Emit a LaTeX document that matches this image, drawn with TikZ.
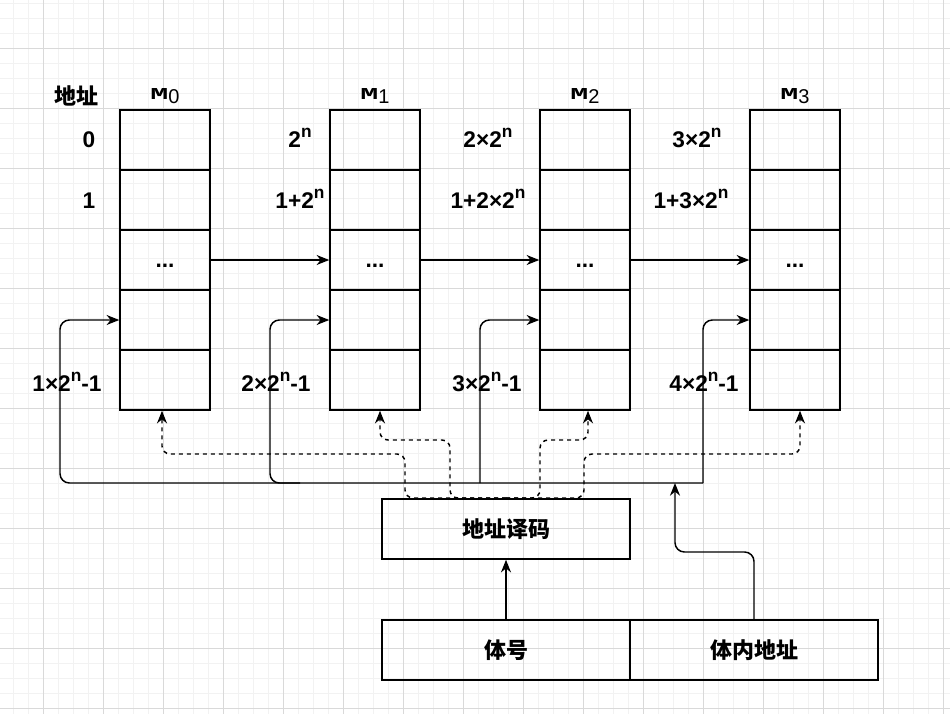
\documentclass[tikz,border=0pt]{standalone}
\usepackage{fontspec}
\setmainfont{Liberation Sans}
\setmonofont{Liberation Mono}
\newfontfamily\cjk{Noto Sans CJK SC}
\usetikzlibrary{calc}
\usetikzlibrary{arrows.meta}

\tikzset{
  cell/.style={draw, line width=1.1pt, minimum width=67.5pt, minimum height=45pt, inner sep=0pt},
  box/.style={draw, line width=1.1pt, minimum width=186pt, minimum height=45pt, inner sep=0pt,
    font=\cjk\bfseries\fontsize{16.5}{18}\selectfont},
  lab/.style={font=\bfseries\fontsize{17}{19}\selectfont, inner sep=0pt, anchor=base},
  link/.style={line width=1.1pt, -{Stealth[length=9.5pt,width=7.5pt,inset=3pt]}},
  dlink/.style={link, dash pattern=on 3pt off 3pt},
  gridminor/.style={gray!10, line width=0.6pt},
  gridmajor/.style={gray!30, line width=0.6pt}
}
\newcommand{\mtitle}[1]{{\fontsize{12.5}{14}\selectfont\ttfamily\bfseries\scalebox{1.8}[1]{M}}\raisebox{-3.6pt}{\fontsize{15}{16}\selectfont #1}}
\newcommand{\pw}{\raisebox{0.42em}{\fontsize{13}{14}\selectfont n}}

\begin{document}
\begin{tikzpicture}[x=0.75pt, y=-0.75pt]
\useasboundingbox (0,0) rectangle (950,714);
\fill[white] (0,0) rectangle (950,714);
% grid
\foreach \x in {13,28,...,943} \draw[gridminor] (\x,0) -- (\x,714);
\foreach \y in {3,18,...,713} \draw[gridminor] (0,\y) -- (950,\y);
\foreach \x in {43,103,...,943} \draw[gridmajor] (\x,0) -- (\x,714);
\foreach \y in {48,108,...,713} \draw[gridmajor] (0,\y) -- (950,\y);

% memory banks
\foreach \k in {0,1,2,3} {
 \foreach \j in {1,...,5}
  \node[cell] (m\k-\j) at ({165+210*\k},{80+60*\j}) {};
 \node[inner sep=0pt, anchor=base] (t\k) at ({165+210*\k},99) {\mtitle{\k}};
 \node[lab] (d\k) at ({165+210*\k},267) {...};
}
\node[font=\cjk\bfseries\fontsize{16.5}{18}\selectfont, inner sep=0pt] (addr) at (76,96) {地址};

% addresses
\node[lab] (a00) at (89,147) {0};
\node[lab] (a01) at (89,208) {1};
\node[lab] (a10) at (300,147) {2\pw};
\node[lab] (a11) at (300,208) {1+2\pw};
\node[lab] (a20) at (488,147) {2×2\pw};
\node[lab] (a21) at (488,208) {1+2×2\pw};
\node[lab] (a30) at (697,147) {3×2\pw};
\node[lab] (a31) at (691,208) {1+3×2\pw};
\node[lab] (e0) at (67,391) {1×2\pw-1};
\node[lab] (e1) at (276,391) {2×2\pw-1};
\node[lab] (e2) at (487,391) {3×2\pw-1};
\node[lab] (e3) at (704,391) {4×2\pw-1};

% decoder and address fields
\node[box] (dec) at (506,529) {地址译码};
\node[box] (bankno) at (506,650) {体号};
\node[box] (inner) at (754,650) {体内地址};

% links between banks
\foreach \k/\n in {0/1,1/2,2/3}
 \draw[link] (m\k-3.east) -- (m\n-3.west);

% address bus
\coordinate (busR) at (703,483);
\coordinate (tap1) at (300,483);
\coordinate (tap2) at (480,483);
\coordinate (busin) at (675,483);
\draw[link, rounded corners=7pt] (busR) -- (60,483) |- (m0-4.west);
\draw[link, rounded corners=7pt] (tap1) -- (270,483) |- (m1-4.west);
\draw[link, rounded corners=7pt] (tap2) |- (m2-4.west);
\draw[link, rounded corners=7pt] (busR) |- (m3-4.west);
\draw[link, rounded corners=7pt] (inner.north) |- (675,552) -- (busin);
\draw[link] (bankno.north) -- (dec.south);

% bank select
\coordinate (dsrc) at (506,498);
\draw[dlink, rounded corners=6pt] (dsrc) -| (405,454) -| ($(m0-5.south)+(-3,0)$);
\draw[dlink, rounded corners=6pt] (dsrc) -| (450,440) -| ($(m1-5.south)+(5,0)$);
\draw[dlink, rounded corners=6pt] (dsrc) -| (540,440) -| ($(m2-5.south)+(3,0)$);
\draw[dlink, rounded corners=6pt] (dsrc) -| (584,454) -| ($(m3-5.south)+(5,0)$);
\end{tikzpicture}
\end{document}
